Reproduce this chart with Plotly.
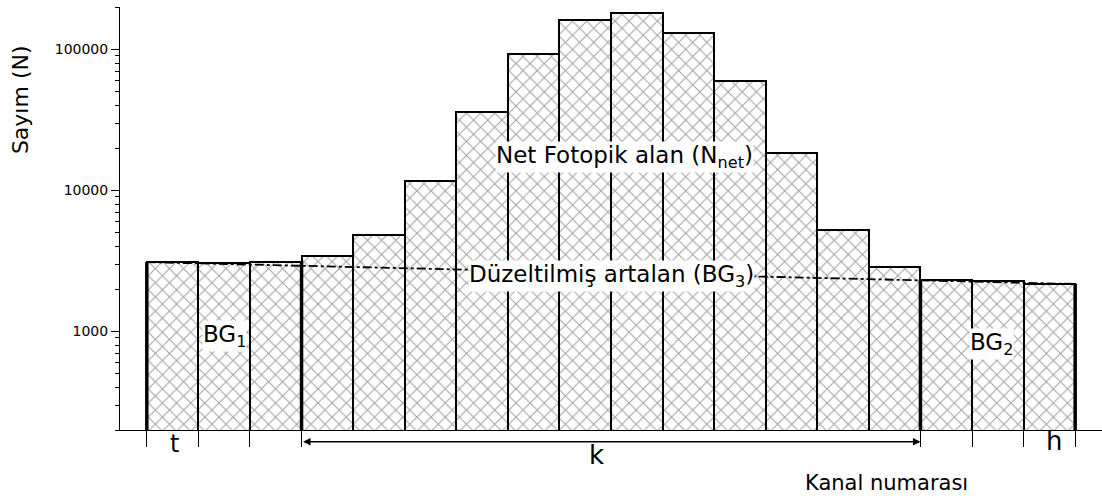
import plotly.graph_objects as go

# ---- data ----
channels = list(range(1, 19))
counts = [3100, 3050, 3120, 3450, 4800, 11700, 36300, 92300, 160600,
          180800, 129800, 59600, 18300, 5280, 2845, 2327, 2274, 2178]
bg_line_x = [0.5, 18.5]
bg_line_y = [3100, 2170]
y_floor = 200
y_top = 200000
y_tickvals = [1000, 10000, 100000]
y_ticktext = ["1000", "10000", "100000"]
x_tickvals = [0.5, 1.5, 2.5, 3.5, 15.5, 16.5, 17.5, 18.5]
region_edges = [0.5, 3.5, 15.5, 18.5]

FONT = "DejaVu Sans"

fig = go.Figure()

fig.add_trace(go.Bar(
    x=channels, y=counts, width=1,
    marker=dict(color="white",
                line=dict(color="black", width=2),
                pattern=dict(shape="x", fgcolor="#444444", bgcolor="white",
                             size=10, solidity=0.2)),
    showlegend=False, hoverinfo="skip"))

# thick region-boundary lines (heights taken from neighbouring bars)
edge_heights = [counts[0], min(counts[2], counts[3]),
                min(counts[14], counts[15]), counts[17]]
for ex, eh in zip(region_edges, edge_heights):
    fig.add_trace(go.Scatter(x=[ex, ex], y=[y_floor, eh], mode="lines",
                             line=dict(color="black", width=3.5),
                             showlegend=False, hoverinfo="skip"))

# corrected background line
fig.add_trace(go.Scatter(x=bg_line_x, y=bg_line_y, mode="lines",
                         line=dict(color="black", width=1.8, dash="dashdot"),
                         showlegend=False, hoverinfo="skip"))

# minor ticks
minor_vals = [m * 10 ** e for e in range(2, 6) for m in range(2, 10)
              if y_floor <= m * 10 ** e <= y_top]

fig.update_layout(
    width=1102, height=500,
    margin=dict(l=120, r=0, t=7, b=70),
    plot_bgcolor="white", paper_bgcolor="white",
    font=dict(family=FONT, color="black"),
    bargap=0,
    xaxis=dict(range=[-0.02, 19.02], showgrid=False, zeroline=False,
               showline=True, linecolor="black", linewidth=1,
               tickvals=x_tickvals, ticks="outside", ticklen=16,
               tickcolor="black", tickwidth=1.2, showticklabels=False),
    yaxis=dict(type="log", range=[2.30103, 5.30103], showgrid=False,
               zeroline=False, showline=True, linecolor="black", linewidth=1,
               tickvals=y_tickvals, ticktext=y_ticktext, ticks="outside",
               ticklen=8, tickcolor="black",
               tickfont=dict(family=FONT, size=14, color="black"),
               minor=dict(tickvals=minor_vals, ticks="outside", ticklen=4,
                          tickcolor="black", showgrid=False)),
)

ann_font = dict(family=FONT, size=23, color="black")
box = dict(bgcolor="white", borderpad=0, showarrow=False,
           xanchor="center", yanchor="middle")
plain = dict(showarrow=False, xanchor="center", yanchor="middle")

fig.add_annotation(x=2, y=2.965, xref="x", yref="y",
                   text="BG<sub>1</sub>", font=ann_font, **box)
fig.add_annotation(x=16.87, y=2.908, xref="x", yref="y",
                   text="BG<sub>2</sub>", font=ann_font, **box)
fig.add_annotation(x=9.77, y=4.234, xref="x", yref="y",
                   text="Net Fotopik alan (N<sub>net</sub>)", font=ann_font, **box)
fig.add_annotation(x=9.5, y=3.39, xref="x", yref="y",
                   text="Düzeltilmiş artalan (BG<sub>3</sub>)", font=ann_font, **box)

# labels below axis
fig.add_annotation(x=1.04, y=-0.033, xref="x", yref="paper",
                   text="t", font=dict(family=FONT, size=24, color="black"), **plain)
fig.add_annotation(x=18.08, y=-0.026, xref="x", yref="paper",
                   text="h", font=dict(family=FONT, size=26, color="black"), **plain)
fig.add_annotation(x=9.21, y=-0.06, xref="x", yref="paper",
                   text="k", font=dict(family=FONT, size=26, color="black"), **plain)

# double arrow for k
fig.add_annotation(x=region_edges[2], y=-0.0277, xref="x", yref="paper",
                   ax=region_edges[1], ay=0, axref="x", ayref="pixel",
                   text="", showarrow=True, arrowhead=2, arrowside="end+start",
                   arrowsize=1, arrowwidth=1.5, arrowcolor="black")

# axis titles
fig.add_annotation(x=14.84, y=-0.125, xref="x", yref="paper",
                   text="Kanal numarası",
                   font=dict(family=FONT, size=21, color="black"), **plain)
fig.add_annotation(x=-0.1018, y=0.78, xref="paper", yref="paper",
                   text="Sayım (N)", textangle=-90,
                   font=dict(family=FONT, size=22, color="black"), **plain)

fig.write_html("out.html",
               config={"displayModeBar": False},
               post_script="document.body.style.margin='0';"
                           "document.body.style.padding='0';")
